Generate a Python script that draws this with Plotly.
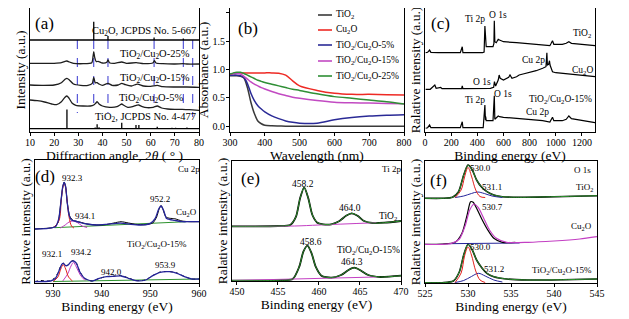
import plotly.graph_objects as go

FONT = "Times New Roman, Liberation Serif, Tinos, DejaVu Serif, serif"
BLUE = "#24249a"
RED = "#e3231f"
MAG = "#c33fc3"
GREEN = "#2e932e"

# ---------------- (a) XRD ----------------
xrd_cu2o_ref_pos = [29.6, 36.4, 42.3, 61.4, 73.5, 77.4]
xrd_cu2o_ref_int = [0.6, 18.3, 4.0, 2.5, 1.6, 0.8]
xrd_cu2o_ref_base = 92
xrd_tio2_ref_pos = [25.3, 37.0, 37.8, 38.6, 48.0, 53.9, 55.1, 62.7, 68.8, 70.3, 75.0]
xrd_tio2_ref_int = [19.3, 1.2, 4.5, 1.5, 6.0, 3.7, 3.7, 2.0, 1.0, 1.0, 1.3]
xrd_tio2_ref_base = 3.3
xrd_dash_pos = [29.6, 36.4, 42.3, 61.4, 73.5, 77.4]
xrd_dash_bottom = [19, 24, 19, 28, 21, 15]

xrd_25_x = [10, 15, 20, 23, 24.5, 25.3, 26.3, 28, 32, 35.6, 36.1, 36.4, 36.8, 37.5, 38.2, 40, 41.8, 42.3,
            42.9, 45, 48, 50, 54, 57, 61.0, 61.5, 62.2, 65, 70, 73.5, 75, 80]
xrd_25_y = [68.7, 68.7, 68.7, 69.3, 70.7, 71, 70, 68.7, 68.3, 69.3, 75.3, 80.3, 74.7, 70.3, 70.7, 69, 69.7, 72,
            69.3, 68.7, 70, 68.7, 69.3, 68.3, 69.3, 71.3, 69, 68.3, 68, 68.3, 68, 68]
xrd_15_x = [10, 15, 20, 23, 24.5, 25.3, 26.3, 28, 31, 34, 35.8, 36.4, 37, 37.8, 38.6, 40, 42.3, 44, 46.5, 48,
            49.5, 52, 54, 55, 57, 60, 62.7, 65, 70, 75, 80]
xrd_15_y = [47, 46.7, 47, 49.3, 52.7, 53.7, 52, 48, 46.7, 46.7, 48.7, 54.7, 49.3, 49.3, 48, 46.7, 48.7, 46.7,
            47, 48.7, 47.3, 46, 47.7, 47.7, 46, 45.7, 46.7, 45.3, 45, 45, 44.7]
xrd_5_x = [10, 13, 16, 19, 21, 23, 24.5, 25.3, 26.2, 27.5, 29, 32, 35, 36.4, 37.2, 37.8, 38.6, 40, 43, 46,
           47.2, 48.0, 48.8, 50.5, 52.5, 54, 55, 56.5, 58.5, 61, 62.7, 64.5, 67, 70, 73, 76, 80]
xrd_5_y = [32, 31.3, 30, 28, 27.3, 30.3, 34.7, 36, 33.7, 28.7, 26.7, 26, 26, 27, 28.7, 30.3, 28, 26, 24.7,
           25.3, 27, 28, 26.7, 24.7, 25.3, 26.7, 27, 25.3, 24.3, 24.7, 26, 24, 23, 22.7, 22.7, 22.3, 21.7]

# ---------------- (b) UV-vis ----------------
uv_wl = [300, 310, 320, 330, 340, 350, 360, 370, 380, 390, 400, 420, 440, 460, 480, 500, 550, 600, 650,
         700, 750, 800]
uv_tio2 = [0.89, 0.89, 0.89, 0.88, 0.85, 0.68, 0.42, 0.22, 0.09, 0.04, 0.015, 0.005, 0.0, -0.005, -0.005,
           -0.005, -0.005, -0.005, -0.005, -0.005, -0.005, -0.005]
uv_cu2o = [0.9, 0.93, 0.94, 0.94, 0.94, 0.94, 0.94, 0.94, 0.94, 0.94, 0.94, 0.94, 0.935, 0.9, 0.8, 0.71,
           0.63, 0.58, 0.56, 0.56, 0.555, 0.55]
uv_5 = [0.9, 0.9, 0.9, 0.89, 0.86, 0.75, 0.58, 0.45, 0.36, 0.3, 0.25, 0.18, 0.13, 0.09, 0.065, 0.05, 0.05,
        0.11, 0.15, 0.175, 0.19, 0.2]
uv_15 = [0.92, 0.93, 0.93, 0.92, 0.88, 0.83, 0.78, 0.74, 0.71, 0.68, 0.655, 0.61, 0.57, 0.54, 0.51, 0.49,
         0.45, 0.42, 0.41, 0.405, 0.4, 0.395]
uv_25 = [0.92, 0.94, 0.95, 0.95, 0.93, 0.9, 0.87, 0.84, 0.81, 0.79, 0.77, 0.74, 0.71, 0.68, 0.65, 0.63,
         0.57, 0.52, 0.49, 0.46, 0.43, 0.39]
uv_names = ["TiO<sub>2</sub>", "Cu<sub>2</sub>O", "TiO<sub>2</sub>/Cu<sub>2</sub>O-5%",
            "TiO<sub>2</sub>/Cu<sub>2</sub>O-15%", "TiO<sub>2</sub>/Cu<sub>2</sub>O-25%"]
uv_colors = ["#3a3a3a", "#ee2a24", "#2a2a96", "#c24ac2", "#2f8f35"]

# ---------------- (c) XPS survey ----------------
sv_tio2_x = [5, 20, 35, 45, 100, 270, 285, 290, 440, 452, 458, 462, 464, 468, 520, 527, 530, 534, 545, 560,
             570, 600, 700, 800, 900, 955, 965, 975, 985, 1050, 1080, 1100, 1120, 1200, 1300]
sv_tio2_y = [79.3, 79.7, 82, 79.7, 79.3, 79.3, 85.3, 79.3, 79.3, 80, 106, 87, 92.7, 85.3, 85.3, 88.7, 111.3,
             90.3, 89.3, 92.7, 92, 90.3, 89.3, 88.3, 87.3, 86.3, 88.7, 91.3, 87.7, 87.7, 88.7, 90.3, 88.7,
             87.7, 86.3]
sv_cu2o_x = [5, 40, 75, 85, 120, 130, 280, 285, 290, 500, 525, 531, 540, 560, 567, 575, 600, 640, 650, 665,
             700, 720, 750, 800, 850, 900, 925, 932, 936, 945, 952, 956, 975, 1000, 1100, 1200, 1300]
sv_cu2o_y = [42.7, 42.7, 47, 43.7, 44.7, 43.3, 43.3, 46, 43.3, 43.7, 44.7, 50.3, 46, 52, 57, 53.7, 52, 54.7,
             57, 53.7, 55.3, 57, 58, 59.3, 61.3, 63.7, 65.3, 79.3, 67, 67.7, 71.3, 67, 60.3, 59.3, 58, 56.7,
             55.3]
sv_15_x = [5, 20, 35, 45, 270, 285, 290, 445, 458, 462, 464, 468, 520, 530, 534, 560, 570, 600, 700, 800,
           900, 955, 965, 975, 985, 1050, 1080, 1100, 1120, 1200, 1300]
sv_15_y = [3.7, 4.3, 7, 4.3, 4.3, 10.3, 4.3, 4.3, 27, 12, 15.3, 11.3, 11.3, 36.3, 12.7, 16, 15.3, 14.7, 13.7,
           12.7, 11.3, 10, 12.7, 14.7, 11.3, 11.3, 12.7, 16, 13.3, 11.3, 9.3]

# ---------------- (d) Cu 2p ----------------
cu_top_raw_x = [926.3, 928, 930, 931, 931.6, 932.0, 932.3, 932.6, 933.0, 933.5, 934.2, 935.5, 937, 939, 941,
                942.5, 944, 945.5, 947, 949, 950.5, 951.3, 951.8, 952.2, 952.6, 953.2, 954, 955, 956.5, 958, 960]
cu_top_raw_y = [54, 54.5, 55.5, 60, 80, 96, 101, 96, 78, 66, 62.5, 61, 59, 58, 58.5, 60, 61.3, 60, 58.7, 58.3,
                60, 66, 74, 77.5, 73.5, 66, 64.7, 64.3, 62, 61.3, 61.3]
cu_top_fit_x = [926.3, 929, 930.5, 931.2, 931.7, 932.0, 932.3, 932.6, 932.9, 933.3, 933.8, 934.5, 935.5, 937,
                939, 941, 943, 944.5, 946, 948, 950, 951, 951.7, 952.2, 952.7, 953.3, 954, 955, 956.5, 958, 960]
cu_top_fit_y = [54, 54.7, 56.3, 64.7, 84.7, 96.3, 100.7, 96.3, 81.3, 68, 63, 62, 60.7, 59, 58, 58.7, 59.7,
                59.7, 58.7, 58, 59.7, 64.7, 73.7, 77, 73, 64.7, 63.5, 62.7, 61.3, 61.3, 61.3]
cu_top_c1_x = [930, 931.2, 931.7, 932.0, 932.3, 932.6, 932.9, 933.3, 933.8, 934.3]
cu_top_c1_y = [55, 62, 83, 95, 100, 95, 82, 66, 57, 55]
cu_top_c2_x = [931.5, 932.5, 933.3, 934.1, 935, 936, 937]
cu_top_c2_y = [55, 58, 61, 62, 60.5, 57, 55.5]
cu_top_bg_x = [930.3, 957.4]
cu_top_bg_y = [55.3, 61.3]
cu_bot_raw_x = [926.3, 927.5, 929, 930.2, 931, 931.6, 932.1, 932.6, 933.1, 933.7, 934.2, 934.8, 935.5, 936.5,
                938, 939.5, 941, 942.5, 944, 945.5, 947, 949, 950.5, 952, 953.9, 955.5, 957, 958.5, 960]
cu_bot_raw_y = [1.5, 2.5, 2, 4.5, 10, 17, 20, 17.5, 18, 21.5, 22.5, 20, 11.5, 4.5, 2, 4.5, 6.5, 7, 7.5, 5,
                2.5, 3, 7.5, 11, 11.5, 10, 6.5, 4, 4]
cu_bot_fit_x = [926.3, 929.5, 930.5, 931.3, 931.8, 932.1, 932.6, 933.1, 933.7, 934.2, 934.8, 935.5, 936.5, 938,
                939.5, 941, 942.5, 944, 945.5, 947, 949, 950.5, 952, 953.9, 955.5, 957, 958.5, 960]
cu_bot_fit_y = [1.3, 2, 4.7, 13, 18.7, 19.7, 17.3, 18, 21.3, 22, 19.7, 11.3, 4.7, 2, 4.7, 6.3, 6.7, 7, 4.7,
                2.3, 3, 7.3, 10.7, 11.3, 9.7, 6.3, 4, 4]
cu_bot_c1_x = [930, 931, 931.6, 932.1, 932.6, 933.2, 934]
cu_bot_c1_y = [1.5, 6, 14, 18.5, 14, 6, 2]
cu_bot_c2_x = [932, 933, 933.7, 934.2, 934.8, 935.6, 936.6]
cu_bot_c2_y = [2, 9, 17, 20.5, 16, 8, 2.5]
cu_bot_bg_x = [930, 960]
cu_bot_bg_y = [1.5, 4]

# ---------------- (e) Ti 2p ----------------
ti_top_x = [449.4, 452, 455, 456.5, 457.2, 457.7, 458.2, 458.7, 459.2, 459.8, 460.5, 461.5, 462.5, 463.3,
            464.0, 464.7, 465.5, 466.5, 468, 470]
ti_top_y = [54.7, 54.7, 55, 56, 64.3, 82.7, 93.7, 82.7, 66, 58.3, 56.7, 56.7, 60, 65.3, 67.7, 65.3, 60, 58,
            58.3, 60]
ti_top_bg_x = [449.5, 457, 460, 467]
ti_top_bg_y = [54.7, 55, 56, 58.3]
ti_bot_x = [449.4, 452, 455, 456.8, 457.6, 458.1, 458.6, 459.1, 459.6, 460.3, 461.5, 462.7, 463.6, 464.3,
            465, 466, 467.5, 470]
ti_bot_y = [0.3, 0.3, 0.7, 2, 14.3, 29.3, 35.3, 27.7, 14.3, 5.3, 3.3, 6, 11, 13.3, 11, 6, 4, 5.3]
ti_bot_bg_x = [449.5, 467]
ti_bot_bg_y = [0.5, 4]

# ---------------- (f) O 1s ----------------
o_top_x = [525, 527, 528.2, 528.9, 529.5, 530.0, 530.5, 531.0, 531.6, 532.2, 533, 534, 536, 540, 545]
o_top_y = [84.7, 84.7, 85.7, 91.3, 108, 118, 113, 103, 95.7, 91.3, 88, 86.3, 85.7, 86.3, 87.3]
o_top_c1_x = [528.5, 529.2, 529.6, 530.0, 530.4, 530.9, 531.4, 532]
o_top_c1_y = [85.5, 93, 106, 115.5, 107, 93, 86.5, 85.5]
o_top_c2_x = [528.5, 529.5, 530.4, 531.1, 531.9, 532.8, 534]
o_top_c2_y = [85.5, 87, 89.5, 91, 89.5, 87, 85.5]
o_mid_raw_x = [525, 527, 528.5, 529.3, 529.9, 530.3, 530.6, 531.0, 531.6, 532.3, 533, 534, 535.5]
o_mid_raw_y = [38.7, 39, 40.7, 49.7, 68, 81.3, 80.7, 74.7, 64, 53, 44.7, 40.7, 40.7]
o_mid_fit_x = [525, 528, 529, 529.7, 530.2, 530.7, 531.2, 531.8, 532.5, 533.3, 534.5, 537, 540, 543, 545]
o_mid_fit_y = [38.7, 39.3, 44, 58, 73, 79, 75.3, 65.3, 53, 44.7, 40.7, 40.7, 42, 44, 46.3]
o_mid_bg_x = [527.5, 536]
o_mid_bg_y = [39.3, 40]
o_bot_x = [525, 527, 528.3, 529, 529.5, 530.0, 530.5, 531.0, 531.6, 532.2, 533, 534.5, 537, 541, 545]
o_bot_y = [0.3, 0.3, 2, 11.3, 28, 38.7, 33, 23, 15.3, 9.7, 6.3, 4, 3, 3.3, 4]
o_bot_c1_x = [528.5, 529.2, 529.6, 530.0, 530.4, 530.9, 531.4, 532]
o_bot_c1_y = [0.5, 10, 27, 36, 28, 12, 3, 0.5]
o_bot_c2_x = [528.5, 529.5, 530.4, 531.2, 532, 533, 534]
o_bot_c2_y = [0.5, 2.5, 6.5, 9.7, 7, 3, 1]


def sticks(pos, inten, base, x0, x1):
    xs, ys = [x0], [base]
    for p, h in zip(pos, inten):
        xs += [p, p, p]
        ys += [base, base + h, base]
    xs.append(x1)
    ys.append(base)
    return xs, ys


fig = go.Figure()


def add(ax, x, y, color, width=1.0, dash="solid", shape="linear", smoothing=None, name=None):
    line = dict(color=color, width=width, dash=dash, shape=shape)
    if smoothing is not None:
        line["smoothing"] = smoothing
    fig.add_trace(go.Scatter(x=x, y=y, mode="lines", line=line, xaxis="x" + ax, yaxis="y" + ax,
                             showlegend=False, name=name or "", hoverinfo="skip"))


# (a)
dx, dy = [], []
for p, b in zip(xrd_dash_pos, xrd_dash_bottom):
    dx += [p, p, None]
    dy += [xrd_cu2o_ref_base, b, None]
add("", dx, dy, "#3535d0", 1.0, dash="dash")
sx, sy = sticks(xrd_cu2o_ref_pos, xrd_cu2o_ref_int, xrd_cu2o_ref_base, 10, 80)
add("", sx, sy, "black", 1.3)
sx, sy = sticks(xrd_tio2_ref_pos, xrd_tio2_ref_int, xrd_tio2_ref_base, 10, 80)
add("", sx, sy, "black", 1.3)
add("", xrd_25_x, xrd_25_y, "#1e1e1e", 1.3, shape="spline", smoothing=0.6)
add("", xrd_15_x, xrd_15_y, "#1e1e1e", 1.3, shape="spline", smoothing=0.6)
add("", xrd_5_x, xrd_5_y, "#1e1e1e", 1.3, shape="spline", smoothing=0.6)

# (b)
for ys, c, n in zip([uv_tio2, uv_cu2o, uv_5, uv_15, uv_25], uv_colors, uv_names):
    add("2", uv_wl, ys, c, 1.5, shape="spline", smoothing=0.8, name=n)

# (c)
add("3", sv_tio2_x, sv_tio2_y, "black", 1.2)
add("3", sv_cu2o_x, sv_cu2o_y, "black", 1.2)
add("3", sv_15_x, sv_15_y, "black", 1.2)

# (d)
add("4", cu_top_bg_x, cu_top_bg_y, GREEN, 1.0)
add("4", cu_bot_bg_x, cu_bot_bg_y, GREEN, 1.0)
add("4", cu_top_raw_x, cu_top_raw_y, "black", 1.0, shape="spline", smoothing=0.6)
add("4", cu_bot_raw_x, cu_bot_raw_y, "black", 1.0, dash="dot", shape="spline", smoothing=0.6)
add("4", cu_top_c2_x, cu_top_c2_y, MAG, 1.0, shape="spline", smoothing=1)
add("4", cu_bot_c2_x, cu_bot_c2_y, MAG, 1.0, shape="spline", smoothing=1)
add("4", cu_top_c1_x, cu_top_c1_y, RED, 1.0, shape="spline", smoothing=1)
add("4", cu_bot_c1_x, cu_bot_c1_y, RED, 1.0, shape="spline", smoothing=1)
add("4", cu_top_fit_x, cu_top_fit_y, BLUE, 1.3, shape="spline", smoothing=0.6)
add("4", cu_bot_fit_x, cu_bot_fit_y, BLUE, 1.3, shape="spline", smoothing=0.6)

# (e)
add("5", ti_top_x, ti_top_y, "black", 1.8, shape="spline", smoothing=0.7)
add("5", ti_bot_x, ti_bot_y, "black", 1.8, shape="spline", smoothing=0.7)
add("5", ti_top_bg_x, ti_top_bg_y, MAG, 1.0, shape="spline")
add("5", ti_bot_bg_x, ti_bot_bg_y, MAG, 1.0)
add("5", ti_top_x, ti_top_y, GREEN, 1.0, shape="spline", smoothing=0.7)
add("5", ti_bot_x, ti_bot_y, GREEN, 1.0, shape="spline", smoothing=0.7)

# (f)
add("6", o_top_x, o_top_y, "black", 1.6, shape="spline", smoothing=0.7)
add("6", o_top_c2_x, o_top_c2_y, BLUE, 1.0, shape="spline", smoothing=1)
add("6", o_top_c1_x, o_top_c1_y, RED, 1.0, shape="spline", smoothing=1)
add("6", o_top_x, o_top_y, GREEN, 1.0, shape="spline", smoothing=0.7)
add("6", o_mid_bg_x, o_mid_bg_y, BLUE, 1.0)
add("6", o_mid_raw_x, o_mid_raw_y, "black", 1.2, shape="spline", smoothing=0.7)
add("6", o_mid_fit_x, o_mid_fit_y, MAG, 1.2, shape="spline", smoothing=0.7)
add("6", o_bot_x, o_bot_y, "black", 1.6, shape="spline", smoothing=0.7)
add("6", o_bot_c2_x, o_bot_c2_y, BLUE, 1.0, shape="spline", smoothing=1)
add("6", o_bot_c1_x, o_bot_c1_y, RED, 1.0, shape="spline", smoothing=1)
add("6", o_bot_x, o_bot_y, GREEN, 1.0, shape="spline", smoothing=0.7)

# The page body has an 8px default margin, so the figure is placed 8px in from the window corner.
OFF = 8
W, H = 629 - OFF, 319 - OFF


def dom_x(a, b):
    return [(a - OFF) / W, (b - OFF) / W]


def dom_y(top, bot):
    return [1 - (bot - OFF) / H, min(1.0, 1 - (top - OFF) / H)]


tickfont = dict(family=FONT, size=10, color="black")
titlefont = dict(family=FONT, size=13.5, color="black")


def xax(domain, rng, tickvals, title, anchor, mirror=True):
    return dict(domain=domain, range=rng, tickvals=tickvals, showline=True, linecolor="black", linewidth=1,
                mirror=mirror, ticks="outside", ticklen=3, tickcolor="black", tickfont=tickfont,
                ticklabelstandoff=-2,
                showgrid=False, zeroline=False, anchor=anchor,
                title=dict(text=title, font=titlefont, standoff=0))


def yax(domain, rng, anchor, title, mirror=True, ticklabels=False, tickvals=None, ticktext=None):
    d = dict(domain=domain, range=rng, showline=True, linecolor="black", linewidth=1, mirror=mirror,
             showgrid=False, zeroline=False, anchor=anchor, tickfont=tickfont,
             title=dict(text=title, font=titlefont, standoff=0))
    if ticklabels:
        d.update(ticks="outside", ticklen=3, tickcolor="black", tickvals=tickvals, ticktext=ticktext,
                 ticklabelstandoff=-1)
    else:
        d.update(showticklabels=False, ticks="")
    return d


top = dom_y(0, 132)
layout = dict(
    width=W, height=H, margin=dict(l=0, r=0, t=0, b=0), template="none",
    paper_bgcolor="white", plot_bgcolor="white", showlegend=False,
    font=dict(family=FONT, color="black"),
    xaxis=xax(dom_x(30, 199), [10, 80], [10, 20, 30, 40, 50, 60, 70, 80],
              "Diffraction angle, 2<i>θ</i> ( ° )", "y", mirror=False),
    yaxis=yax(top, [0, 124], "x", "Intensity (a.u.)"),
    xaxis2=xax(dom_x(230, 404), [300, 800], [300, 400, 500, 600, 700, 800], "Wavelength (nm)", "y2",
               mirror=False),
    yaxis2=yax(top, [-0.106, 2.088], "x2", "Absorbance (a.u.)", ticklabels=True,
               tickvals=[0, 0.5, 1.0, 1.5, 2.0], ticktext=["0.0", "0.5", "1.0", "1.5", "2.0"]),
    xaxis3=xax(dom_x(425, 595), [0, 1300], [0, 200, 400, 600, 800, 1000, 1200], "Binding energy (eV)",
               "y3", mirror=False),
    yaxis3=yax(top, [0, 124], "x3", "Ralative intensity (a.u.)"),
    xaxis4=xax(dom_x(35, 199), [926.3, 960], [930, 940, 950, 960], "Binding energy (eV)", "y4"),
    yaxis4=yax(dom_y(160, 283), [0, 123], "x4", "Ralative intensity (a.u.)"),
    xaxis5=xax(dom_x(232, 401), [449.4, 470], [450, 455, 460, 465, 470], "Binding energy (eV)", "y5"),
    yaxis5=yax(dom_y(161, 281), [0, 120], "x5", "Ralative intensity (a.u.)"),
    xaxis6=xax(dom_x(425, 597), [525, 545], [525, 530, 535, 540, 545], "Binding energy (eV)", "y6"),
    yaxis6=yax(dom_y(161, 283), [0, 122], "x6", "Ralative intensity (a.u.)"),
)
fig.update_layout(**layout)

T2 = "TiO<sub>2</sub>"
C2 = "Cu<sub>2</sub>O"
COMP = "TiO<sub>2</sub>/Cu<sub>2</sub>O-15%"

ann = []


def A(ax, x, y, text, size=9.5, xanchor="center"):
    ann.append(dict(x=x, y=y, xref="x" + ax, yref="y" + ax, text=text, showarrow=False, xanchor=xanchor,
                    yanchor="middle", font=dict(family=FONT, size=size, color="black")))


A("", 16.2, 109, "(a)", 17)
A("", 79.4, 101, C2 + ", JCPDS No. 5-667", 10.5, "right")
A("", 76.9, 78, "TiO<sub>2</sub>/Cu<sub>2</sub>O-25%", 10.5, "right")
A("", 76.9, 54, COMP, 10.5, "right")
A("", 74.4, 34, "TiO<sub>2</sub>/Cu<sub>2</sub>O-5%", 10.5, "right")
A("", 79.4, 15, T2 + ", JCPDS No. 4-477", 10.5, "right")

A("2", 352, 1.72, "(b)", 17)

A("3", 115, 109, "(c)", 17)
A("3", 383, 113, "Ti 2p", 9.5)
A("3", 559, 117, "O 1s", 9.5)
A("3", 1202, 99, T2, 9.5)
A("3", 827, 72, "Cu 2p", 9.5)
A("3", 1202, 62, C2, 9.5)
A("3", 436, 50, "O 1s", 9.5)
A("3", 383, 32, "Ti 2p", 9.5)
A("3", 597, 38, "O 1s", 9.5)
A("3", 1292, 33, COMP, 9.5, "right")
A("3", 858, 20, "Cu 2p", 9.5)

A("4", 928.3, 106.3, "(d)", 17)
A("4", 934.1, 104.7, "932.3", 9)
A("4", 936.5, 67.3, "934.1", 9)
A("4", 951.9, 83.7, "952.2", 9)
A("4", 957.4, 70.7, C2, 9)
A("4", 957.9, 114, "Cu 2p", 9)
A("4", 929.8, 29, "932.1", 9)
A("4", 935.7, 31.3, "934.2", 9)
A("4", 942.0, 10.7, "942.0", 9)
A("4", 953.1, 18, "953.9", 9)
A("4", 951.4, 38.7, COMP, 9)

A("5", 451.6, 102.7, "(e)", 17)
A("5", 468.9, 112, "Ti 2p", 9)
A("5", 458.0, 96.7, "458.2", 9.5)
A("5", 463.8, 72.7, "464.0", 9.5)
A("5", 468.4, 64.3, T2, 9.5)
A("5", 459.0, 38.7, "458.6", 9.5)
A("5", 466.0, 31, COMP, 9.5)
A("5", 464.0, 18.7, "464.3", 9.5)

A("6", 526.6, 103, "(f)", 17)
A("6", 531.4, 114.7, "530.0", 9)
A("6", 532.8, 95.7, "531.1", 9)
A("6", 543.3, 113, "O 1s", 9)
A("6", 543.6, 95.7, T2, 9)
A("6", 532.8, 76, "530.7", 9)
A("6", 543.2, 56.3, C2, 9)
A("6", 531.4, 36.3, "530.0", 9)
A("6", 533.0, 13.7, "531.2", 9)
A("6", 540.9, 12.3, COMP, 9)

# legend for (b)
leg_py = [15, 30, 45, 61, 76]
shapes = []
for py, c, n in zip(leg_py, uv_colors, uv_names):
    yy = 1 - (py - OFF) / H
    shapes.append(dict(type="line", xref="paper", yref="paper", x0=(318 - OFF) / W, x1=(332 - OFF) / W,
                       y0=yy, y1=yy, line=dict(color=c, width=1.6)))
    ann.append(dict(x=(334 - OFF) / W, y=yy, xref="paper", yref="paper", text=n, showarrow=False,
                    xanchor="left", yanchor="middle", font=dict(family=FONT, size=9.5, color="black")))

fig.update_layout(annotations=ann, shapes=shapes)
fig.write_html("out.html")
